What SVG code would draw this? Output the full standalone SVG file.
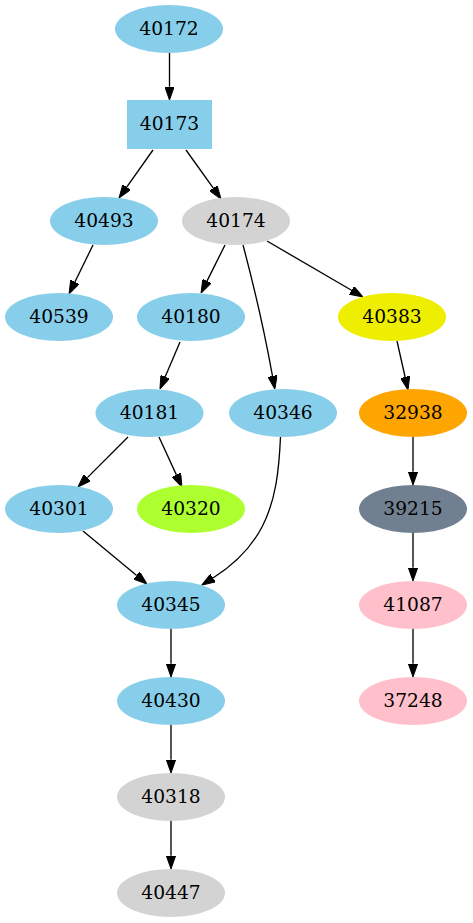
<svg xmlns="http://www.w3.org/2000/svg" width="473" height="923" viewBox="0 0 473 923">
<style>
text{font-family:"DejaVu Serif","Liberation Serif",serif;font-size:18.67px;text-anchor:middle;fill:#000}
.e{stroke:#000;stroke-width:1.33;fill:none}
.sb{fill:#87ceeb}.lg{fill:#d3d3d3}.yl{fill:#eeee00}.or{fill:#ffa500}.sg{fill:#708090}.pk{fill:#ffc0cb}.gy{fill:#adff2f}
</style>
<defs>
<marker id="a" viewBox="0 0 13.33 9.33" refX="0" refY="4.67" markerWidth="13.33" markerHeight="9.33" orient="auto" markerUnits="userSpaceOnUse">
<polygon points="0,0 13.33,4.67 0,9.33" fill="#000" stroke="#000" stroke-width="1"/>
</marker>
</defs>
<rect width="473" height="923" fill="#fff"/>
<g id="edges">
<path class="e" marker-end="url(#a)" d="M169.5,53 L169.5,86.7"/>
<path class="e" marker-end="url(#a)" d="M153,150 L126.7,187.1"/>
<path class="e" marker-end="url(#a)" d="M186,150 L213.3,188.2"/>
<path class="e" marker-end="url(#a)" d="M93,245 L74.9,282"/>
<path class="e" marker-end="url(#a)" d="M225,245 L207,281.1"/>
<path class="e" marker-end="url(#a)" d="M243,245 C255,290 266,340 272.5,376"/>
<path class="e" marker-end="url(#a)" d="M267,241 L351.5,290.3"/>
<path class="e" marker-end="url(#a)" d="M180,342 L165.2,376.7"/>
<path class="e" marker-end="url(#a)" d="M397,341 L405.1,377"/>
<path class="e" marker-end="url(#a)" d="M128,437 L87.4,477.6"/>
<path class="e" marker-end="url(#a)" d="M159,437 L176.4,474.9"/>
<path class="e" marker-end="url(#a)" d="M280.5,437 C279,470 276,500 262,527 C251,548 232,566 213,578"/>
<path class="e" marker-end="url(#a)" d="M83,531 L136.7,575.5"/>
<path class="e" marker-end="url(#a)" d="M413,437 L413,471.7"/>
<path class="e" marker-end="url(#a)" d="M171,629 L171,663.7"/>
<path class="e" marker-end="url(#a)" d="M413,533 L413,567.7"/>
<path class="e" marker-end="url(#a)" d="M171,725 L171,759.7"/>
<path class="e" marker-end="url(#a)" d="M413,629 L413,663.7"/>
<path class="e" marker-end="url(#a)" d="M171,821 L171,855.7"/>
</g>
<g id="n40172"><ellipse class="sb" cx="169" cy="29" rx="54" ry="24"/><text x="169" y="34.5">40172</text></g>
<g id="n40173"><rect class="sb" x="127" y="100" width="85" height="49"/><text x="169.5" y="130">40173</text></g>
<g id="n40493"><ellipse class="sb" cx="104" cy="221" rx="54" ry="24"/><text x="104" y="226.5">40493</text></g>
<g id="n40174"><ellipse class="lg" cx="236" cy="221" rx="54" ry="24"/><text x="236" y="226.5">40174</text></g>
<g id="n40539"><ellipse class="sb" cx="59" cy="317" rx="54" ry="24"/><text x="59" y="322.5">40539</text></g>
<g id="n40180"><ellipse class="sb" cx="191" cy="317" rx="54" ry="24"/><text x="191" y="322.5">40180</text></g>
<g id="n40383"><ellipse class="yl" cx="392" cy="317" rx="54" ry="24"/><text x="392" y="322.5">40383</text></g>
<g id="n40181"><ellipse class="sb" cx="149.5" cy="413" rx="54" ry="24"/><text x="149.5" y="418.5">40181</text></g>
<g id="n40346"><ellipse class="sb" cx="283" cy="413" rx="54" ry="24"/><text x="283" y="418.5">40346</text></g>
<g id="n32938"><ellipse class="or" cx="413" cy="413" rx="54" ry="24"/><text x="413" y="418.5">32938</text></g>
<g id="n40301"><ellipse class="sb" cx="59" cy="509" rx="54" ry="24"/><text x="59" y="514.5">40301</text></g>
<g id="n40320"><ellipse class="gy" cx="191" cy="509" rx="54" ry="24"/><text x="191" y="514.5">40320</text></g>
<g id="n39215"><ellipse class="sg" cx="413" cy="509" rx="54" ry="24"/><text x="413" y="514.5">39215</text></g>
<g id="n40345"><ellipse class="sb" cx="171" cy="605" rx="54" ry="24"/><text x="171" y="610.5">40345</text></g>
<g id="n41087"><ellipse class="pk" cx="413" cy="605" rx="54" ry="24"/><text x="413" y="610.5">41087</text></g>
<g id="n40430"><ellipse class="sb" cx="171" cy="701" rx="54" ry="24"/><text x="171" y="706.5">40430</text></g>
<g id="n37248"><ellipse class="pk" cx="413" cy="701" rx="54" ry="24"/><text x="413" y="706.5">37248</text></g>
<g id="n40318"><ellipse class="lg" cx="171" cy="797" rx="54" ry="24"/><text x="171" y="802.5">40318</text></g>
<g id="n40447"><ellipse class="lg" cx="171" cy="893" rx="54" ry="24"/><text x="171" y="898.5">40447</text></g>
</svg>
